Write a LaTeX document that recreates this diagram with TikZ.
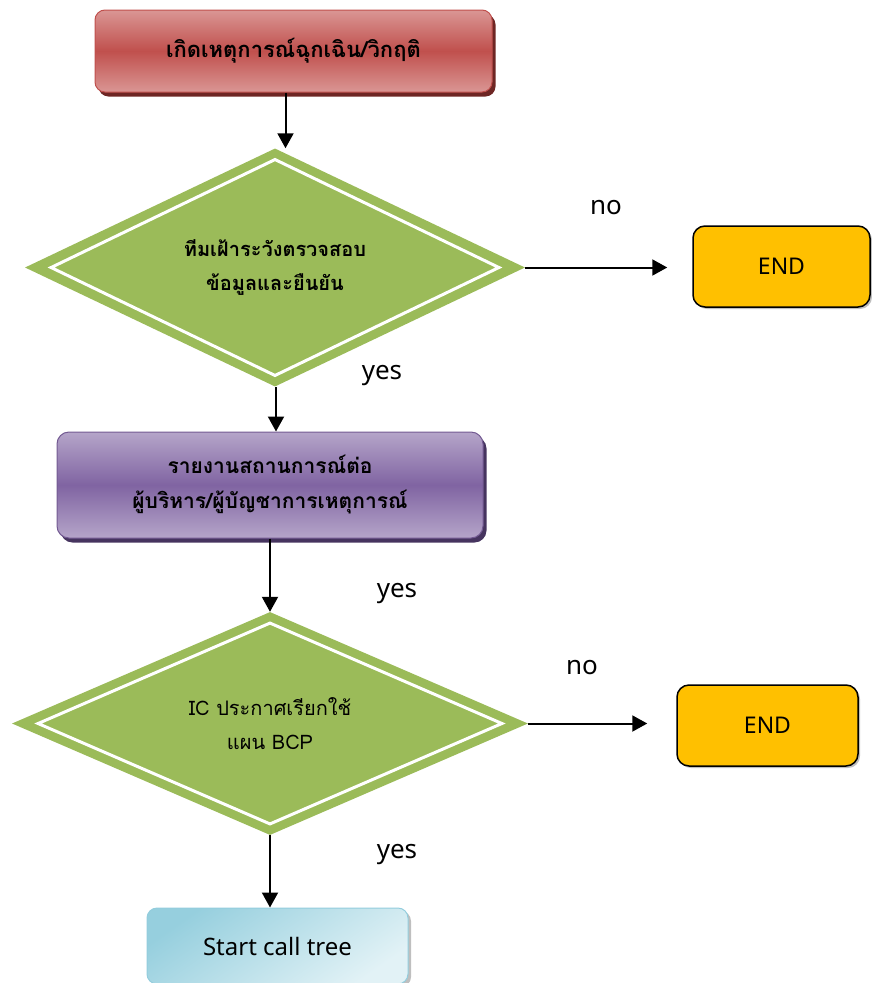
\documentclass[tikz,border=0pt]{standalone}
\usepackage{fontspec}
\setmainfont{Noto Sans}
\newfontfamily\thaifont[Script=Thai]{Loma}
\usetikzlibrary{shapes.geometric,arrows.meta,shadows}

\definecolor{redlight}{RGB}{218,150,148}
\definecolor{redmid}{RGB}{192,80,77}
\definecolor{redshadow}{RGB}{110,38,36}
\definecolor{purplelight}{RGB}{181,165,201}
\definecolor{purplemid}{RGB}{128,100,162}
\definecolor{purpleshadow}{RGB}{70,52,95}
\definecolor{leaf}{RGB}{155,187,89}
\definecolor{amber}{RGB}{255,192,0}
\definecolor{skydark}{RGB}{150,207,222}
\definecolor{skylight}{RGB}{226,242,246}
\definecolor{skyedge}{RGB}{147,205,221}

\tikzset{
  thaitext/.style={font=\thaifont\bfseries\fontsize{20}{34}\selectfont, align=center, text=black},
  redbox/.style={thaitext, font=\thaifont\bfseries\fontsize{22}{34}\selectfont,
    rounded corners=10pt, draw=redmid, line width=1pt,
    top color=redlight, bottom color=redlight, middle color=redmid,
    drop shadow={shadow xshift=3.5pt, shadow yshift=-4.5pt, fill=redshadow, opacity=1},
    minimum width=397pt, minimum height=82pt, inner sep=0pt},
  purplebox/.style={thaitext, font=\thaifont\bfseries\fontsize{21}{35}\selectfont,
    rounded corners=12pt, draw=purplemid!90!black, line width=1pt,
    top color=purplelight, bottom color=purplelight, middle color=purplemid,
    drop shadow={shadow xshift=3.5pt, shadow yshift=-4.5pt, fill=purpleshadow, opacity=1},
    minimum width=426pt, minimum height=106pt, inner sep=0pt},
  decision/.style={diamond, fill=leaf, inner sep=0pt, thaitext,
    path picture={
      \draw[white, line width=3pt]
        ([yshift=-11pt]path picture bounding box.north) --
        ([xshift=-26pt]path picture bounding box.east) --
        ([yshift=11pt]path picture bounding box.south) --
        ([xshift=26pt]path picture bounding box.west) -- cycle;
    }},
  endbox/.style={rounded corners=12pt, draw=black, line width=1.5pt, fill=amber,
    font=\fontsize{23}{26}\selectfont, minimum width=177pt, minimum height=81pt,
    drop shadow={shadow xshift=2pt, shadow yshift=-2pt, fill=black!25, opacity=1}},
  startbox/.style={rounded corners=10pt, draw=skyedge, line width=1pt,
    top color=skydark, bottom color=skylight, shading angle=35,
    font=\fontsize{24}{28}\selectfont, minimum width=261pt, minimum height=76pt,
    drop shadow={shadow xshift=3pt, shadow yshift=-3pt, fill=black!25, opacity=1}},
  answer/.style={font=\fontsize{26}{30}\selectfont, text=black},
  arr/.style={-{Triangle[length=15pt,width=16pt]}, line width=2pt, black},
}

\begin{document}
\begin{tikzpicture}[x=1pt, y=-1pt]
  \useasboundingbox (0,0) rectangle (872,983);

  % boxes and decisions
  \node[redbox] (event) at (293.5,51) {เกิดเหตุการณ์ฉุกเฉิน/วิกฤติ};
  \node[decision, minimum width=500pt, minimum height=215pt] (verify) at (275,267.5)
    {ทีมเฝ้าระวังตรวจสอบ\\ข้อมูลและยืนยัน};
  \node[endbox] (end1) at (781.5,266.5) {END};
  \node[purplebox] (report) at (270,485)
    {รายงานสถานการณ์ต่อ\\ผู้บริหาร/ผู้บัญชาการเหตุการณ์};
  \node[decision, minimum width=516pt, minimum height=223pt,
        font=\thaifont\fontsize{20}{34}\selectfont] (declare) at (270,723.5)
    {IC ประกาศเรียกใช้\\แผน BCP};
  \node[endbox, minimum width=181pt] (end2) at (767.5,725.5) {END};
  \node[startbox] (calltree) at (277.5,946) {Start call tree};

  % answer labels
  \node[answer] (no1) at (606,208) {no};
  \node[answer] (yes1) at (382,376) {yes};
  \node[answer] (yes2) at (397,594) {yes};
  \node[answer] (no2) at (582,668) {no};
  \node[answer] (yes3) at (397,855) {yes};

  % connectors
  \draw[arr] ([xshift=-8pt]event.south) -- ([xshift=-8pt]event.south |- verify.north);
  \draw[arr, shorten >=25pt] (verify.east) -- (verify.east -| end1.west);
  \draw[arr] ([xshift=1pt]verify.south) -- ([xshift=1pt]verify.south |- report.north);
  \draw[arr] (report.south) -- (declare.north);
  \draw[arr, shorten >=29pt] (declare.east) -- (declare.east -| end2.west);
  \draw[arr] (declare.south) -- (declare.south |- calltree.north);
\end{tikzpicture}
\end{document}
